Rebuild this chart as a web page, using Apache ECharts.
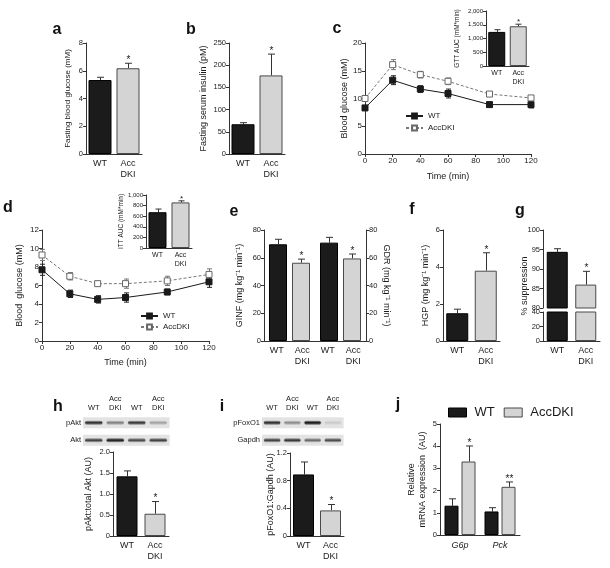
<!DOCTYPE html>
<html><head><meta charset="utf-8">
<script src="https://cdn.jsdelivr.net/npm/echarts@6/dist/echarts.min.js"></script>
<style>html,body{margin:0;padding:0;background:#fff}#chart{width:610px;height:568px}</style>
</head><body><div id="chart"></div>
<script>
// ================= DATA =================
const catsWA = ['WT', 'Acc\nDKI'];
const legendNames = ['WT', 'AccDKI'];
// a
const aValues = [5.33, 6.18], aErrors = [0.2, 0.36], aSig = ['', '*'], aAxis = [0, 8, 2];
// b
const bValues = [67, 177], bErrors = [3.5, 48], bSig = ['', '*'], bAxis = [0, 250, 50];
// c
const timeMin = [0, 20, 40, 60, 90, 120], timeAxis = [0, 120, 20];
const cWT = [8.3, 13.3, 11.7, 10.9, 8.9, 8.9], cWTErr = [0.3, 0.8, 0.6, 0.8, 0.4, 0.6];
const cAcc = [10.0, 16.1, 14.3, 13.1, 10.8, 10.1], cAccErr = [0.3, 0.9, 0.6, 0.6, 0.4, 0.4];
const cAxis = [0, 20, 5];
const cAucValues = [1240, 1445], cAucErrors = [80, 75], cAucSig = ['', '*'], cAucAxis = [0, 2000, 500];
// d
const dWT = [7.7, 5.1, 4.5, 4.7, 5.3, 6.4], dWTErr = [0.6, 0.4, 0.4, 0.5, 0.3, 0.6];
const dAcc = [9.3, 7.0, 6.2, 6.2, 6.5, 7.2], dAccErr = [0.6, 0.4, 0.2, 0.5, 0.5, 0.6];
const dAxis = [0, 12, 2];
const dAucValues = [675, 860], dAucErrors = [60, 30], dAucSig = ['', '*'], dAucAxis = [0, 1000, 200];
// e
const eGroups = ['GINF', 'GDR'];
const eLabels = ['WT', 'Acc\nDKI', 'WT', 'Acc\nDKI'];
const eWT = [69.7, 70.9], eWTErr = [3.6, 3.8];
const eAcc = [56.4, 59.5], eAccErr = [2.6, 3.2], eAccSig = ['*', '*'];
const eAxis = [0, 80, 20];
// f
const fValues = [1.5, 3.8], fErrors = [0.22, 0.97], fSig = ['', '*'], fAxis = [0, 6, 2];
// g
const gValues = [94.4, 86.0], gErrors = [0.8, 3.4], gSig = ['', '*'];
const gAxisTop = [80, 100, 5], gAxisBottom = [0, 40, 20];
// h
const hLanes = ['WT', 'Acc\nDKI', 'WT', 'Acc\nDKI'], hRows = ['pAkt', 'Akt'];
const hBands = [[0.85, 0.45, 0.8, 0.3], [0.75, 0.95, 0.7, 0.75]];
const hValues = [1.42, 0.53], hErrors = [0.13, 0.29], hSig = ['', '*'], hAxis = [0, 2, 0.5];
// i
const iLanes = ['WT', 'Acc\nDKI', 'WT', 'Acc\nDKI'], iRows = ['pFoxO1', 'Gapdh'];
const iBands = [[0.85, 0.4, 1.0, 0.12], [0.75, 0.8, 0.55, 0.7]];
const iValues = [0.89, 0.37], iErrors = [0.18, 0.085], iSig = ['', '*'], iAxis = [0, 1.2, 0.4];
// j
const jGenes = ['G6p', 'Pck'];
const jWT = [1.32, 1.06], jWTErr = [0.31, 0.17];
const jAcc = [3.31, 2.17], jAccErr = [0.70, 0.22], jAccSig = ['*', '**'];
const jAxis = [0, 5, 1];

// ================= STYLE / BUILD =================
const F = 'Liberation Sans, Arial, Helvetica, sans-serif';
const AX = '#333', TX = '#1a1a1a';
const WT_S = {color: '#1b1b1b', borderColor: '#000', borderWidth: 1};
const ACC_S = {color: '#d4d4d4', borderColor: '#4a4a4a', borderWidth: 1};
const grid = [], xAxis = [], yAxis = [], series = [];

function mkGrid(l, t, w, h) {
  grid.push({left: l, top: t, width: w, height: h, outerBoundsMode: 'none', containLabel: false, show: false});
  return grid.length - 1;
}
function lineOpt() { return {show: true, onZero: false, lineStyle: {color: AX, width: 1}}; }
function valY(gi, rng, o) {
  o = o || {};
  const ax = {
    type: 'value', gridIndex: gi, min: rng[0], max: rng[1], interval: rng[2], position: o.position || 'left',
    axisLine: lineOpt(), axisTick: {show: true, inside: false, length: 3, lineStyle: {color: AX, width: 1}},
    axisLabel: {show: true, fontFamily: F, fontSize: o.tfs || 7.5, color: TX, margin: 3},
    splitLine: {show: false}, nameMoveOverlap: false
  };
  if (o.fmt) ax.axisLabel.formatter = o.fmt;
  if (o.name) Object.assign(ax, {name: o.name, nameLocation: 'middle', nameRotate: o.rot || 90, nameGap: o.gap,
    nameTextStyle: {fontFamily: F, fontSize: o.nfs || 9, color: TX, lineHeight: o.nlh || 11}});
  yAxis.push(ax); return yAxis.length - 1;
}
function catX(gi, cats, o) {
  o = o || {};
  const ax = {type: 'category', gridIndex: gi, data: cats, position: 'bottom', boundaryGap: true,
    axisLine: o.noLine ? {show: false} : lineOpt(), axisTick: {show: false}, splitLine: {show: false},
    axisLabel: {show: !o.noLabel, interval: 0, fontFamily: F, fontSize: o.cfs || 9, color: TX, margin: o.cm || 4,
      lineHeight: o.clh || 11, fontStyle: o.italic ? 'italic' : 'normal'}};
  if (o.hidden) ax.show = false;
  xAxis.push(ax); return xAxis.length - 1;
}
function valX(gi, rng, o) {
  xAxis.push({type: 'value', gridIndex: gi, min: rng[0], max: rng[1], interval: rng[2], position: 'bottom',
    axisLine: lineOpt(), axisTick: {show: true, length: 3, lineStyle: {color: AX}},
    axisLabel: {fontFamily: F, fontSize: 8, color: TX, margin: 3}, splitLine: {show: false},
    name: o.name, nameLocation: 'middle', nameGap: o.gap, nameMoveOverlap: false,
    nameTextStyle: {fontFamily: F, fontSize: 9, color: TX}});
  return xAxis.length - 1;
}
function errBars(xi, yi, vals, errs, sigs, o) {
  o = o || {};
  const off = o.offset || 0, cap = o.cap || 7, both = !!o.both;
  series.push({
    type: 'custom', xAxisIndex: xi, yAxisIndex: yi, clip: false, z: o.z || 2, silent: true,
    data: vals.map((v, i) => [o.xs ? o.xs[i] : i, v, errs[i]]),
    renderItem(params, api) {
      const x = api.value(0), v = api.value(1), e = api.value(2);
      const p0 = api.coord([x, both ? v - e : v]);
      const p1 = api.coord([x, v + e]);
      const cx = Math.round(p0[0] + off) + 0.5;
      const st = {stroke: o.color || '#333', lineWidth: 1};
      const ch = [
        {type: 'line', shape: {x1: cx, y1: p0[1], x2: cx, y2: p1[1]}, style: st},
        {type: 'line', shape: {x1: cx - cap / 2, y1: p1[1], x2: cx + cap / 2, y2: p1[1]}, style: st}
      ];
      if (both) ch.push({type: 'line', shape: {x1: cx - cap / 2, y1: p0[1], x2: cx + cap / 2, y2: p0[1]}, style: st});
      const s = sigs && sigs[params.dataIndex];
      if (s) ch.push({type: 'text', x: cx, y: p1[1] + 2, style: {text: s, fontFamily: F, fontSize: o.sfs || 10,
        fill: TX, align: 'center', verticalAlign: 'bottom'}});
      return {type: 'group', children: ch};
    }
  });
}
function simpleBars(xi, yi, vals, bw) {
  series.push({type: 'bar', name: 'bars' + xi + '_' + yi, xAxisIndex: xi, yAxisIndex: yi, barWidth: bw, z: 3, silent: true,
    data: vals.map((v, i) => ({value: v, itemStyle: i === 0 ? WT_S : ACC_S}))});
}
function barPanel(p) {
  const gi = mkGrid(p.l, p.t, p.w, p.h);
  const xi = catX(gi, catsWA, p);
  const yi = valY(gi, p.range, p);
  simpleBars(xi, yi, p.vals, p.bw);
  errBars(xi, yi, p.vals, p.errs, p.sigs, {cap: p.cap || 7, sfs: p.sfs});
}
function linePanel(p) {
  const gi = mkGrid(p.l, p.t, p.w, p.h);
  const xi = valX(gi, timeAxis, {name: 'Time (min)', gap: p.xgap});
  const yi = valY(gi, p.range, {name: p.name, gap: p.gap, tfs: 8});
  errBars(xi, yi, p.wt, p.wtErr, null, {both: true, xs: timeMin, cap: 5, z: 2, color: '#222'});
  errBars(xi, yi, p.acc, p.accErr, null, {both: true, xs: timeMin, cap: 5, z: 2, color: '#777'});
  series.push({type: 'line', name: 'WT', xAxisIndex: xi, yAxisIndex: yi, data: timeMin.map((t, i) => [t, p.wt[i]]),
    symbol: 'rect', symbolSize: 6, showSymbol: true, z: 4, silent: true,
    lineStyle: {color: '#1a1a1a', width: 1}, itemStyle: {color: '#1a1a1a', borderColor: '#1a1a1a', borderWidth: 1}});
  series.push({type: 'line', name: 'AccDKI', xAxisIndex: xi, yAxisIndex: yi, data: timeMin.map((t, i) => [t, p.acc[i]]),
    symbol: 'rect', symbolSize: 6, showSymbol: true, z: 4, silent: true,
    lineStyle: {color: '#777', width: 1, type: [3, 2]}, itemStyle: {color: '#fff', borderColor: '#666', borderWidth: 1}});
}
function blot(p) {
  const gi = mkGrid(p.l, p.t, p.w, p.h);
  xAxis.push({type: 'category', gridIndex: gi, data: p.lanes, position: 'top', axisLine: {show: false}, axisTick: {show: false},
    axisLabel: {interval: 0, fontFamily: F, fontSize: 7.5, color: TX, margin: 2, lineHeight: 9}, splitLine: {show: false}});
  const xi = xAxis.length - 1;
  yAxis.push({type: 'category', gridIndex: gi, data: p.rows, inverse: true, axisLine: {show: false}, axisTick: {show: false},
    axisLabel: {interval: 0, fontFamily: F, fontSize: 7.5, color: TX, margin: 2}, splitLine: {show: false}});
  const yi = yAxis.length - 1;
  const data = [];
  p.bands.forEach((row, r) => row.forEach((v, l) => data.push([l, r, v])));
  series.push({type: 'custom', xAxisIndex: xi, yAxisIndex: yi, data, silent: true, z: 1,
    renderItem(params, api) {
      const pt = api.coord([api.value(0), api.value(1)]);
      const w = api.size([1, 1])[0];
      const v = api.value(2);
      const dark = 'rgba(20,20,20,' + v.toFixed(2) + ')';
      return {type: 'group', children: [
        {type: 'rect', shape: {x: pt[0] - w / 2, y: pt[1] - 5.5, width: w + 0.6, height: 11}, style: {fill: '#e3e3e3'}},
        {type: 'rect', shape: {x: pt[0] - w * 0.4, y: pt[1] - 2.5, width: w * 0.8, height: 5, r: 2.5},
          style: {fill: new echarts.graphic.LinearGradient(0, 0, 0, 1, [
            {offset: 0, color: 'rgba(20,20,20,0)'}, {offset: 0.5, color: dark}, {offset: 1, color: 'rgba(20,20,20,0)'}]),
            shadowBlur: 2, shadowColor: 'rgba(0,0,0,' + (0.5 * v).toFixed(2) + ')'}}
      ]};
    }});
}
function groupedBars(p) {
  const gi = mkGrid(p.l, p.t, p.w, p.h);
  const xi = catX(gi, p.groups, {noLabel: !!p.labels, italic: p.italic, cm: p.cm});
  const yi = valY(gi, p.range, {name: p.name, gap: p.gap, nlh: p.nlh});
  const gapPct = p.gapPx / p.bw;
  series.push({type: 'bar', name: 'WT', xAxisIndex: xi, yAxisIndex: yi, barWidth: p.bw, barGap: (gapPct * 100) + '%',
    z: 3, silent: true, itemStyle: WT_S, data: p.wt});
  series.push({type: 'bar', name: 'AccDKI', xAxisIndex: xi, yAxisIndex: yi, barWidth: p.bw, barGap: (gapPct * 100) + '%',
    z: 3, silent: true, itemStyle: ACC_S, data: p.acc});
  const off = (p.bw + p.gapPx) / 2;
  errBars(xi, yi, p.wt, p.wtErr, null, {offset: -off, cap: 7});
  errBars(xi, yi, p.acc, p.accErr, p.accSig, {offset: off, cap: 7});
  return {gi, xi, yi};
}

// Line charts first (legend picks first series by name)
linePanel({l: 365, t: 43, w: 166, h: 111, range: cAxis, name: 'Blood glucose (mM)', gap: 15, xgap: 18,
  wt: cWT, wtErr: cWTErr, acc: cAcc, accErr: cAccErr});
linePanel({l: 42, t: 230, w: 167, h: 111, range: dAxis, name: 'Blood  glucose (mM)', gap: 17, xgap: 17,
  wt: dWT, wtErr: dWTErr, acc: dAcc, accErr: dAccErr});

const thousands = v => v.toLocaleString('en-US');
const oneDec = v => v === 0 ? '0' : v.toFixed(1);

barPanel({l: 86, t: 43, w: 56, h: 111, range: aAxis, vals: aValues, errs: aErrors, sigs: aSig, bw: 23,
  name: 'Fasting blood glucose (mM)', gap: 13, nfs: 8});
barPanel({l: 229, t: 43, w: 56, h: 111, range: bAxis, vals: bValues, errs: bErrors, sigs: bSig, bw: 23,
  name: 'Fasting serum insulin (pM)', gap: 20});
barPanel({l: 486, t: 11, w: 43, h: 55, range: cAucAxis, vals: cAucValues, errs: cAucErrors, sigs: cAucSig, bw: 17,
  name: 'GTT AUC (mM*min)', gap: 23, nfs: 6.5, tfs: 6, fmt: thousands, cfs: 7, clh: 9, cm: 3, cap: 6, sfs: 8});
barPanel({l: 146, t: 195, w: 46, h: 53, range: dAucAxis, vals: dAucValues, errs: dAucErrors, sigs: dAucSig, bw: 18,
  name: 'ITT AUC (mM*min)', gap: 19, nfs: 6.5, tfs: 6, fmt: thousands, cfs: 7, clh: 9, cm: 3, cap: 6, sfs: 8});
barPanel({l: 443, t: 230, w: 57, h: 111, range: fAxis, vals: fValues, errs: fErrors, sigs: fSig, bw: 22,
  name: 'HGP (mg kg\u207B\u00B9 min\u207B\u00B9)', gap: 12});
barPanel({l: 113, t: 452, w: 56, h: 84, range: hAxis, vals: hValues, errs: hErrors, sigs: hSig, bw: 21,
  name: 'pAkt:total Akt (AU)', gap: 19, fmt: oneDec});
barPanel({l: 290, t: 453, w: 54, h: 83, range: iAxis, vals: iValues, errs: iErrors, sigs: iSig, bw: 21,
  name: 'pFoxO1:Gapdh (AU)', gap: 14, fmt: oneDec});

// e: grouped with left and right axes
const eIdx = groupedBars({l: 264, t: 230, w: 102, h: 111, groups: eGroups, labels: true, range: eAxis, bw: 18, gapPx: 5,
  name: 'GINF (mg kg\u207B\u00B9 min\u207B\u00B9)', gap: 19, wt: eWT, wtErr: eWTErr, acc: eAcc, accErr: eAccErr, accSig: eAccSig});
valY(eIdx.gi, eAxis, {position: 'right', name: 'GDR (mg kg\u207B\u00B9 min\u207B\u00B9)', gap: 15, rot: -90});
xAxis.push({type: 'category', gridIndex: eIdx.gi, data: eLabels, position: 'bottom', boundaryGap: true,
  axisLine: {show: false}, axisTick: {show: false}, splitLine: {show: false},
  axisLabel: {interval: 0, fontFamily: F, fontSize: 9, color: TX, margin: 4, lineHeight: 11}});

// g: broken axis
(function () {
  const gt = mkGrid(543, 230, 57, 78);
  const xt = catX(gt, catsWA, {hidden: true});
  const yt = valY(gt, gAxisTop, {});
  simpleBars(xt, yt, gValues, 21);
  errBars(xt, yt, gValues, gErrors, gSig, {cap: 7});
  const gb = mkGrid(543, 312, 57, 29);
  const xb = catX(gb, catsWA, {});
  const yb = valY(gb, gAxisBottom, {});
  series.push({type: 'bar', name: 'gLow', xAxisIndex: xb, yAxisIndex: yb, barWidth: 21, z: 3, silent: true,
    data: gValues.map((v, i) => ({value: v, itemStyle: i === 0 ? WT_S : ACC_S}))});
})();

// j
groupedBars({l: 440, t: 424, w: 80, h: 111, groups: jGenes, italic: true, cm: 5, range: jAxis, bw: 14, gapPx: 3,
  name: 'Relative\nmRNA expression  (AU)', gap: 12, nlh: 11, wt: jWT, wtErr: jWTErr, acc: jAcc, accErr: jAccErr, accSig: jAccSig});

// blots
blot({l: 83, t: 414, w: 86, h: 35, lanes: hLanes, rows: hRows, bands: hBands});
blot({l: 262, t: 414, w: 81, h: 35, lanes: iLanes, rows: iRows, bands: iBands});

const legendText = {fontFamily: F, fontSize: 8, color: TX};
const legend = [
  {left: 400, top: 107, orient: 'vertical', itemGap: 4, itemWidth: 17, itemHeight: 6, data: legendNames,
    textStyle: legendText, selectedMode: false},
  {left: 135, top: 307, orient: 'vertical', itemGap: 3, itemWidth: 17, itemHeight: 6, data: legendNames,
    textStyle: legendText, selectedMode: false},
  {left: 443, top: 401, orient: 'horizontal', itemGap: 9, itemWidth: 18, itemHeight: 9, selectedMode: false,
    data: [{name: legendNames[0], icon: 'rect', itemStyle: WT_S}, {name: legendNames[1], icon: 'rect', itemStyle: ACC_S}],
    textStyle: {fontFamily: F, fontSize: 13, color: TX, padding: [0, 0, 0, 3]}}
];

const letters = [['a', 57, 30], ['b', 191, 30], ['c', 337, 29], ['d', 8, 208], ['e', 234, 212], ['f', 412, 210],
  ['g', 520, 211], ['h', 58, 407], ['i', 222, 407], ['j', 398, 405]];
const graphic = letters.map(([t, x, y]) => ({type: 'text', x, y, silent: true,
  style: {text: t, fontFamily: F, fontSize: 16, fontWeight: 'bold', fill: '#111', align: 'center', verticalAlign: 'middle'}}));
graphic.push({type: 'text', x: 525, y: 286, rotation: Math.PI / 2, silent: true,
  style: {text: '% suppression', fontFamily: F, fontSize: 9, fill: TX, align: 'center', verticalAlign: 'middle'}});

const chart = echarts.init(document.getElementById('chart'), null, {renderer: 'canvas'});
chart.setOption({animation: false, backgroundColor: '#fff', grid, xAxis, yAxis, series, legend, graphic,
  textStyle: {fontFamily: F}});
</script></body></html>
